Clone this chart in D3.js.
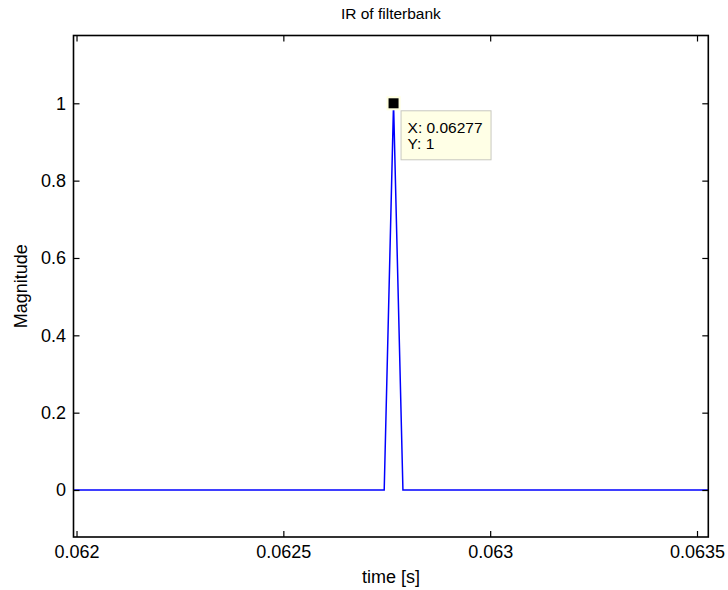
<!DOCTYPE html>
<html>
<head>
<meta charset="utf-8">
<script src="https://cdn.jsdelivr.net/npm/d3@7"></script>
<style>
  html, body { margin: 0; padding: 0; background: #fff; }
  svg { display: block; font-family: "Liberation Sans", Arial, Helvetica, sans-serif; }
</style>
</head>
<body>
<svg id="chart" width="728" height="590"></svg>
<script>
// Impulse response samples (44.1 kHz), only the vertices of the polyline
const times = [0.0619927, 0.0627438, 0.0627664, 0.0627891, 0.0635273];
const magnitudes = [0, 0, 1, 0, 0];

const xTicks = [0.062, 0.0625, 0.063, 0.0635];
const xTickLabels = ["0.062", "0.0625", "0.063", "0.0635"];
const yTicks = [0, 0.2, 0.4, 0.6, 0.8, 1];
const yTickLabels = ["0", "0.2", "0.4", "0.6", "0.8", "1"];

const xDomain = [0.0619927, 0.0635273];
const yDomain = [-0.1215, 1.1753];

// data tip
const tipIndex = 2;
const tipText = ["X: 0.06277", "Y: 1"];

const svg = d3.select("#chart");
const box = { left: 73.5, right: 708.3, top: 35.5, bottom: 537 };

const x = d3.scaleLinear().domain(xDomain).range([box.left, box.right]);
const y = d3.scaleLinear().domain(yDomain).range([box.bottom, box.top]);

const tickLen = 6;
const fontSize = 18;

// data line
const line = d3.line().x((d, i) => x(times[i])).y((d, i) => y(magnitudes[i]));
svg.append("path")
  .datum(magnitudes)
  .attr("d", line)
  .attr("fill", "none")
  .attr("stroke", "#0000ff")
  .attr("stroke-width", 1.5)
  .attr("stroke-linejoin", "miter");

// axes (ticks pointing inward, mirrored on top/right)
const bottomAxis = d3.axisBottom(x).tickValues(xTicks)
  .tickFormat((d, i) => xTickLabels[i]).tickSizeInner(-tickLen).tickSizeOuter(0).tickPadding(8);
const topAxis = d3.axisTop(x).tickValues(xTicks)
  .tickFormat("").tickSizeInner(-tickLen).tickSizeOuter(0);
const leftAxis = d3.axisLeft(y).tickValues(yTicks)
  .tickFormat((d, i) => yTickLabels[i]).tickSizeInner(-tickLen).tickSizeOuter(0).tickPadding(7.5);
const rightAxis = d3.axisRight(y).tickValues(yTicks)
  .tickFormat("").tickSizeInner(-tickLen).tickSizeOuter(0);

function styleAxis(g) {
  g.select(".domain").remove();
  g.selectAll(".tick line").attr("stroke", "#000").attr("stroke-width", 1.2);
  g.selectAll(".tick text").attr("fill", "#000").style("font-size", fontSize + "px")
    .style("font-family", "'Liberation Sans', Arial, sans-serif");
}

svg.append("g").attr("transform", `translate(0,${box.bottom})`).call(bottomAxis).call(styleAxis);
svg.append("g").attr("transform", `translate(0,${box.top})`).call(topAxis).call(styleAxis);
svg.append("g").attr("transform", `translate(${box.left},0)`).call(leftAxis).call(styleAxis);
svg.append("g").attr("transform", `translate(${box.right},0)`).call(rightAxis).call(styleAxis);

// plot box
svg.append("rect")
  .attr("x", box.left).attr("y", box.top)
  .attr("width", box.right - box.left).attr("height", box.bottom - box.top)
  .attr("fill", "none").attr("stroke", "#000").attr("stroke-width", 1.6);

// title and axis labels
svg.append("text")
  .attr("x", (box.left + box.right) / 2).attr("y", 18.5)
  .attr("text-anchor", "middle").style("font-size", "15.5px")
  .text("IR of filterbank");

svg.append("text")
  .attr("x", (box.left + box.right) / 2).attr("y", 583)
  .attr("text-anchor", "middle").style("font-size", fontSize + "px")
  .text("time [s]");

svg.append("text")
  .attr("transform", `translate(27,${(box.top + box.bottom) / 2}) rotate(-90)`)
  .attr("text-anchor", "middle").style("font-size", fontSize + "px")
  .text("Magnitude");

// data tip marker and label
const px = x(times[tipIndex]), py = y(magnitudes[tipIndex]);
svg.append("rect")
  .attr("x", px - 6).attr("y", py - 6).attr("width", 12).attr("height", 12)
  .attr("fill", "#000").attr("stroke", "#ffffe0").attr("stroke-width", 2);

const tip = svg.append("g").attr("transform", `translate(${px + 7.5},${py + 7.5})`);
tip.append("rect")
  .attr("x", 0).attr("y", 0).attr("width", 90).attr("height", 49)
  .attr("fill", "#ffffe6").attr("stroke", "#c8c8c0").attr("stroke-width", 1);
tip.selectAll("text.tip").data(tipText).join("text")
  .attr("class", "tip")
  .attr("x", 6.5).attr("y", (d, i) => 22.5 + i * 16)
  .style("font-size", "15.5px")
  .text(d => d);
</script>
</body>
</html>
